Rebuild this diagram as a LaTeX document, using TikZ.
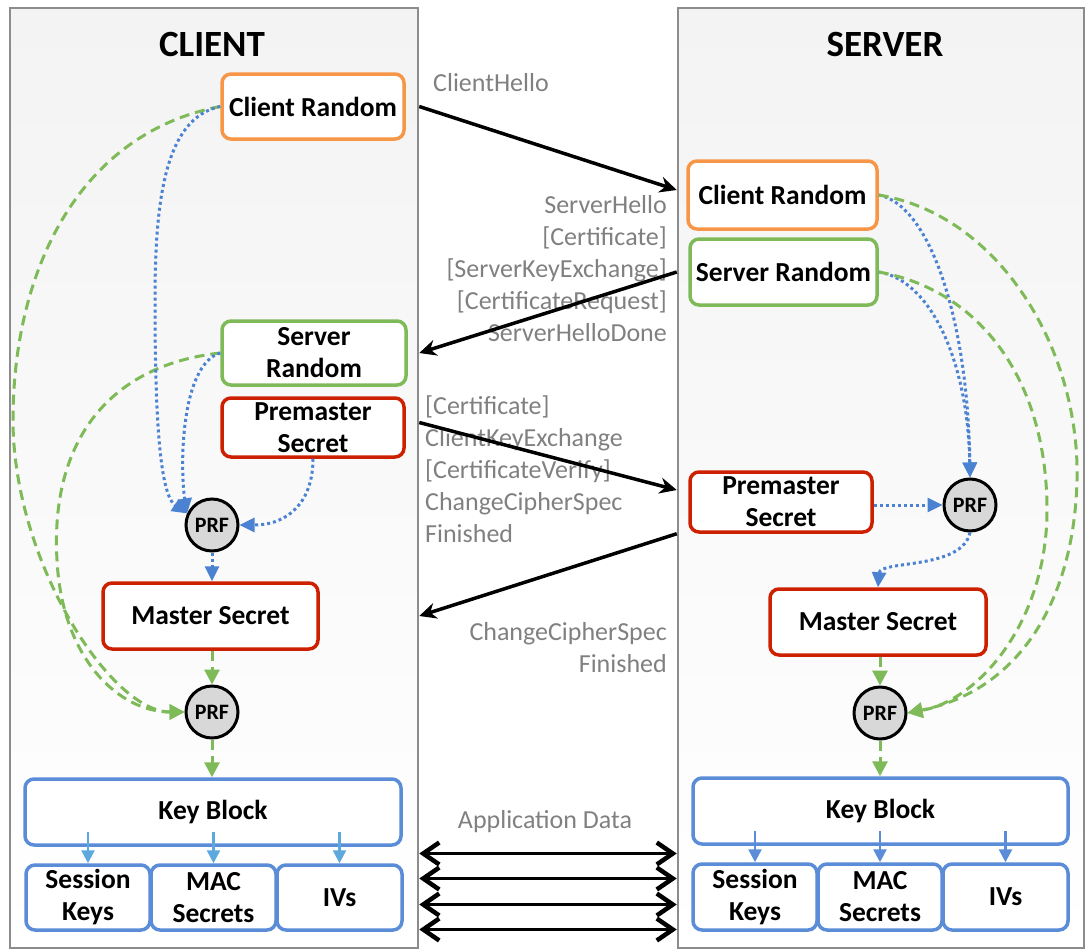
\documentclass[tikz,border=0pt]{standalone}
\usepackage{fontspec}
\setmainfont{Carlito}
\usetikzlibrary{arrows.meta,calc}

\definecolor{panelgray}{RGB}{243,243,243}
\definecolor{panelline}{RGB}{140,140,140}
\definecolor{msggray}{RGB}{128,128,128}
\definecolor{prfgray}{RGB}{216,216,216}
\definecolor{korange}{RGB}{247,150,70}
\definecolor{kgreen}{RGB}{126,186,88}
\definecolor{kred}{RGB}{204,32,0}
\definecolor{kblue}{RGB}{90,140,215}
\definecolor{dotblue}{RGB}{75,130,210}
\definecolor{lightblue}{RGB}{93,169,221}

\begin{document}
\begin{tikzpicture}[x=1pt,y=-1pt,
    panel/.style={draw=panelline, line width=2.5pt, top color=panelgray, bottom color=white, inner sep=0pt},
    title/.style={font=\fontsize{37}{40}\selectfont\bfseries},
    box/.style={draw, line width=3.5pt, rounded corners=9pt, fill=white, align=center, inner sep=0pt,
        font=\fontsize{27.5}{32}\selectfont\bfseries},
    prf/.style={circle, draw, line width=3pt, fill=prfgray, minimum size=52pt, inner sep=0pt,
        font=\fontsize{22}{24}\selectfont\bfseries},
    lbl/.style={text=msggray, inner sep=0pt, font=\fontsize{26}{32}\selectfont},
    msg/.style={line width=3.5pt, -{Stealth[length=17pt,width=16pt]}},
    appdata/.style={line width=3.5pt, {Straight Barb[length=16pt,width=22pt,line width=4.5pt]}-{Straight Barb[length=16pt,width=22pt,line width=4.5pt]}},
    dotarrow/.style={draw=dotblue, line width=3pt, dash pattern=on 3pt off 3pt, -{Triangle[length=15pt,width=14pt]}, color=dotblue},
    dasharrow/.style={draw=kgreen, line width=3pt, dash pattern=on 10pt off 6pt, -{Triangle[length=15pt,width=15pt]}, color=kgreen},
    keyarrow/.style={line width=2.5pt, -{Triangle[length=13pt,width=13pt]}}]

    \useasboundingbox (0,0) rectangle (1086,950);

    % Panels
    \node[panel, minimum width=408pt, minimum height=940pt] (client) at (214,478) {};
    \node[panel, minimum width=406pt, minimum height=940pt] (server) at (881,478) {};
    \node[title] (ctitle) at (212,44) {CLIENT};
    \node[title] (stitle) at (885,44) {SERVER};

    % Client side
    \node[box, draw=korange, minimum width=182pt, minimum height=65pt] (crC) at (313,106.5) {Client Random};
    \node[box, draw=kgreen, minimum width=184pt, minimum height=64pt] (srC) at (314,353) {Server\\Random};
    \node[box, draw=kred, minimum width=182pt, minimum height=59pt] (pmC) at (313,427.5) {Premaster\\Secret};
    \node[prf] (prfC1) at (212,525) {PRF};
    \node[box, draw=kred, minimum width=215pt, minimum height=66pt] (msC) at (210.5,616) {Master Secret};
    \node[prf] (prfC2) at (212,712) {PRF};
    \node[box, draw=kblue, minimum width=376pt, minimum height=66pt] (kbC) at (213,812) {Key Block};
    \node[box, draw=kblue, minimum width=124pt, minimum height=65pt] (skC) at (88,897.5) {Session\\Keys};
    \node[box, draw=kblue, minimum width=125pt, minimum height=65pt] (macC) at (213.5,897.5) {MAC\\Secrets};
    \node[box, draw=kblue, minimum width=125pt, minimum height=65pt] (ivC) at (339.5,897.5) {IVs};

    % Server side
    \node[box, draw=korange, minimum width=189pt, minimum height=68pt] (crS) at (782.5,195) {Client Random};
    \node[box, draw=kgreen, minimum width=187pt, minimum height=66pt] (srS) at (783.5,272) {Server Random};
    \node[box, draw=kred, minimum width=182pt, minimum height=60pt] (pmS) at (781,502) {Premaster\\Secret};
    \node[prf] (prfS1) at (970,505) {PRF};
    \node[box, draw=kred, minimum width=216pt, minimum height=66pt] (msS) at (878,622) {Master Secret};
    \node[prf] (prfS2) at (880,713) {PRF};
    \node[box, draw=kblue, minimum width=375pt, minimum height=66pt] (kbS) at (880.5,811) {Key Block};
    \node[box, draw=kblue, minimum width=124pt, minimum height=66pt] (skS) at (755,897) {Session\\Keys};
    \node[box, draw=kblue, minimum width=124pt, minimum height=66pt] (macS) at (880,897) {MAC\\Secrets};
    \node[box, draw=kblue, minimum width=125pt, minimum height=66pt] (ivS) at (1005.5,897) {IVs};

    % Messages
    \node[lbl, anchor=west] (chello) at (433,83) {ClientHello};
    \node[lbl, anchor=east, align=right] (shello) at (667,269)
        {ServerHello\\{}[Certificate]\\{}[ServerKeyExchange]\\{}[CertificateRequest]\\ServerHelloDone};
    \node[lbl, anchor=west, align=left] (ckex) at (425,469)
        {[Certificate]\\ClientKeyExchange\\{}[CertificateVerify]\\ChangeCipherSpec\\Finished};
    \node[lbl, anchor=east, align=right] (sfin) at (667,647.5) {ChangeCipherSpec\\Finished};
    \node[lbl] (appl) at (545,822) {Application Data};

    \draw[msg] (crC.east -| client.east) -- ($(crS.west -| server.west)+(0,-5)$);
    \draw[msg] (srS.west -| server.west) -- (srC.east -| client.east);
    \draw[msg] ($(pmC.east -| client.east)+(0,-5)$) -- ($(pmS.west -| server.west)+(0,-12)$);
    \draw[msg] (pmS.south west -| server.west) -- (msC.east -| client.east);
    \foreach \dy in {-44,-19,7,32}
        \draw[appdata] ($(skC.center -| client.east)+(0,\dy)$) -- ($(skC.center -| server.west)+(0,\dy)$);

    % Client key derivation
    \draw[dasharrow] (crC.west) .. controls (77,134) and (13,273) .. (13,420)
        .. controls (13,560) and (110,712) .. (prfC2.west);
    \draw[dasharrow] (srC.west) .. controls (110,365) and (50,440) .. (57,560)
        .. controls (62,660) and (120,712) .. (prfC2.west);
    \draw[dotarrow] (crC.west) .. controls (165,118) and (155,200) .. (155,300)
        .. controls (155,420) and (160,495) .. (prfC1.155);
    \draw[dotarrow] (srC.west) .. controls (180,365) and (180,470) .. (prfC1.155);
    \draw[dotarrow] (pmC.south) .. controls (313,500) and (290,525) .. (prfC1.east);
    \draw[dotarrow] (prfC1.south) -- (prfC1.south |- msC.north);
    \draw[dasharrow] (prfC2.north |- msC.south) -- (prfC2.north);
    \draw[dasharrow] (prfC2.south) -- (prfC2.south |- kbC.north);
    \foreach \bx in {skC,macC,ivC}
        \draw[keyarrow, lightblue] ($(\bx.north)+(0,-31)$) -- (\bx.north);

    % Server key derivation
    \draw[dotarrow] (crS.east) .. controls (930,205) and (968,320) .. (prfS1.north);
    \draw[dotarrow] (srS.east) .. controls (930,280) and (968,360) .. (prfS1.north);
    \draw[dotarrow] (pmS.east |- prfS1.west) -- (prfS1.west);
    \draw[dotarrow] (prfS1.south) .. controls (962,570) and (880,560) .. (msS.north);
    \draw[dasharrow] (crS.east) .. controls (1000,215) and (1080,350) .. (1077,480)
        .. controls (1074,600) and (1020,690) .. (prfS2.east);
    \draw[dasharrow] (srS.east) .. controls (980,290) and (1047,380) .. (1047,510)
        .. controls (1047,620) and (980,700) .. (prfS2.east);
    \draw[dasharrow] (prfS2.north |- msS.south) -- (prfS2.north);
    \draw[dasharrow] (prfS2.south) -- (prfS2.south |- kbS.north);
    \foreach \bx in {skS,macS,ivS}
        \draw[keyarrow, kblue] ($(\bx.north)+(0,-31)$) -- (\bx.north);
\end{tikzpicture}
\end{document}
